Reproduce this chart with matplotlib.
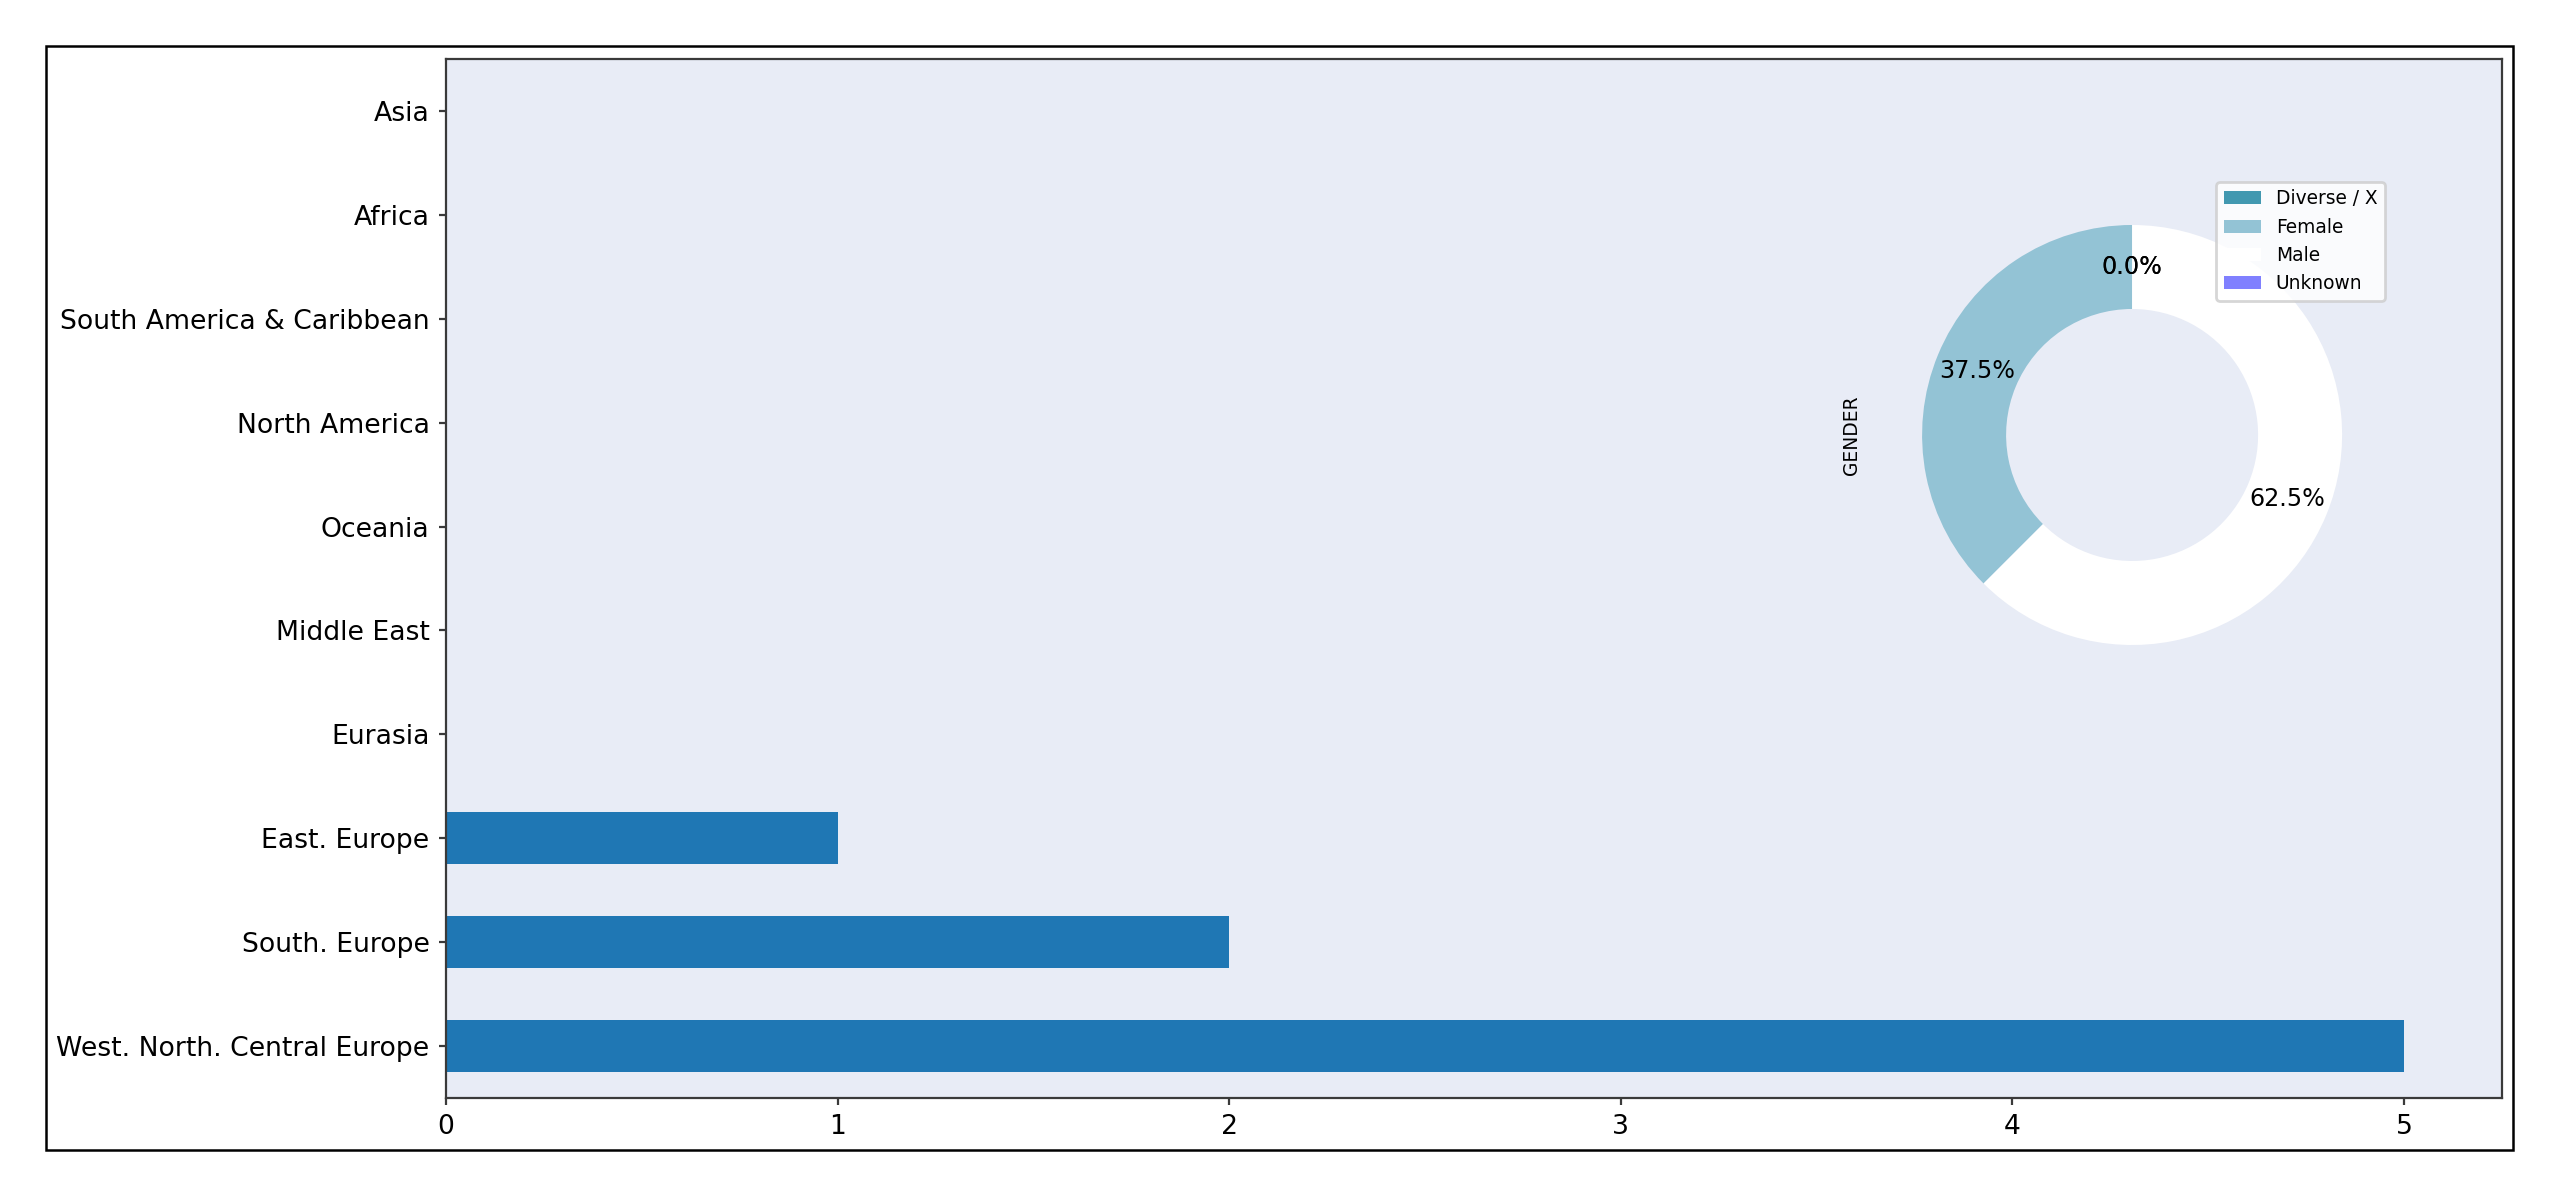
import matplotlib
matplotlib.use("Agg")
import matplotlib.pyplot as plt
from matplotlib.patches import Rectangle

# region counts (bottom to top, as barh draws them)
regions = ["West. North. Central Europe", "South. Europe", "East. Europe", "Eurasia",
           "Middle East", "Oceania", "North America", "South America & Caribbean",
           "Africa", "Asia"]
region_counts = [5, 2, 1, 0, 0, 0, 0, 0, 0, 0]

# gender split
genders = ["Diverse / X", "Female", "Male", "Unknown"]
gender_counts = [0, 3, 5, 0]
gender_colors = ["#4298b0", "#93c3d5", "#ffffff", "#8080ff"]

bg = "#e8ecf6"

fig = plt.figure(figsize=(12.8, 5.985), dpi=200)

# outer frame around the figure
fig.patches.append(Rectangle((0.018, 0.0393), 0.9637, 0.9223, transform=fig.transFigure,
                             fill=False, edgecolor="black", linewidth=0.9))

ax = fig.add_axes([0.1742, 0.0827, 0.8031, 0.868])
ax.set_facecolor(bg)
ax.barh(range(len(regions)), region_counts, height=0.5, color="#1f77b4")
ax.set_yticks(range(len(regions)))
ax.set_yticklabels(regions)
ax.set_ylim(-0.5, len(regions) - 0.5)
ax.set_xlim(0, 5.25)
ax.set_xticks(range(6))
ax.tick_params(labelsize=9.6, length=2.6, pad=3.3, color="#3a3a3a")
for s in ax.spines.values():
    s.set_color("#3a3a3a")

# donut inset
pax = fig.add_axes([0.7303, 0.4173, 0.2051, 0.4386])
wedges, texts, autotexts = pax.pie(gender_counts, colors=gender_colors, startangle=90,
                                   autopct="%1.1f%%", pctdistance=0.8,
                                   wedgeprops=dict(width=0.4),
                                   textprops=dict(fontsize=8.6))
pax.set_ylabel("GENDER", fontsize=6.7, labelpad=3)
pax.legend(wedges, genders, loc="upper right", bbox_to_anchor=(0.9316, 0.8481),
           bbox_transform=fig.transFigure, borderaxespad=0, fontsize=6.7)

fig.savefig("out.png", dpi=200)
